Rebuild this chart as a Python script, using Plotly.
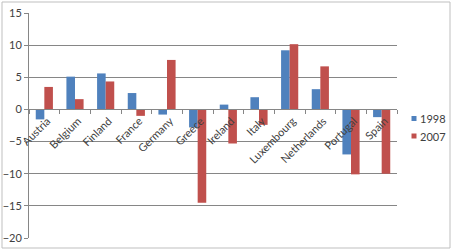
import plotly.graph_objects as go

countries = ["Austria", "Belgium", "Finland", "France", "Germany", "Greece",
             "Ireland", "Italy", "Luxembourg", "Netherlands", "Portugal", "Spain"]
v1998 = [-1.55, 5.1, 5.6, 2.55, -0.8, -2.8, 0.75, 1.9, 9.2, 3.15, -7.0, -1.2]
v2007 = [3.5, 1.6, 4.35, -1.0, 7.7, -14.5, -5.3, -2.4, 10.15, 6.7, -10.1, -10.0]
y_ticks = [15, 10, 5, 0, -5, -10, -15, -20]
series_names = ["1998", "2007"]
colors = ["#4F81BD", "#C0504D"]

FAM = "Lato, Liberation Sans, Arial, sans-serif"
TXT = "#404040"

# plot area in pixels (for paper-coordinate conversion of legend / border)
L, R, T, B = 29, 397, 13, 238
PW, PH = R - L, B - T
def px(x): return (x - L) / PW
def py(y): return (B - y) / PH

fig = go.Figure()
for name, vals, col in zip(series_names, [v1998, v2007], colors):
    fig.add_trace(go.Bar(x=countries, y=vals, name=name, showlegend=False,
                         marker=dict(color=col, line=dict(width=0))))

shapes = [dict(type="rect", xref="paper", yref="paper",
               x0=px(2), x1=px(450), y0=py(248), y1=py(2),
               line=dict(color="#BFBFBF", width=1), fillcolor="rgba(0,0,0,0)", layer="below")]
annotations = []
legend_y = [118.5, 136]
for name, col, ly in zip(series_names, colors, legend_y):
    shapes.append(dict(type="rect", xref="paper", yref="paper",
                       x0=px(411.5), x1=px(416.5), y0=py(ly + 2.5), y1=py(ly - 2.5),
                       line=dict(width=0), fillcolor=col))
    annotations.append(dict(text=name, xref="paper", yref="paper", x=px(418), y=py(ly),
                            xanchor="left", yanchor="middle", showarrow=False,
                            font=dict(family=FAM, size=11, color=TXT)))

fig.update_layout(
    width=453, height=250,
    margin=dict(l=L, r=453 - R, t=T, b=250 - B, autoexpand=False),
    paper_bgcolor="white", plot_bgcolor="white",
    barmode="group", bargap=0.44, bargroupgap=0,
    font=dict(family=FAM, size=10, color=TXT),
    showlegend=False,
    xaxis=dict(anchor="free", position=20/35, tickangle=-45,
               tickson="boundaries", ticks="outside", ticklen=4, tickcolor="#868686",
               ticklabelshift=3, ticklabelstandoff=0,
               showline=True, linecolor="#868686", linewidth=1,
               showgrid=False, automargin=False, tickfont=dict(family=FAM, size=11, color=TXT)),
    yaxis=dict(range=[-20, 15], tickvals=y_ticks, showgrid=True, gridcolor="#868686",
               gridwidth=1, zeroline=False, showline=True, linecolor="#868686",
               ticks="outside", ticklen=4, tickcolor="#868686",
               automargin=False, tickfont=dict(family=FAM, size=11, color=TXT)),
    shapes=shapes,
    annotations=annotations,
)

fig.write_html("out.html")
